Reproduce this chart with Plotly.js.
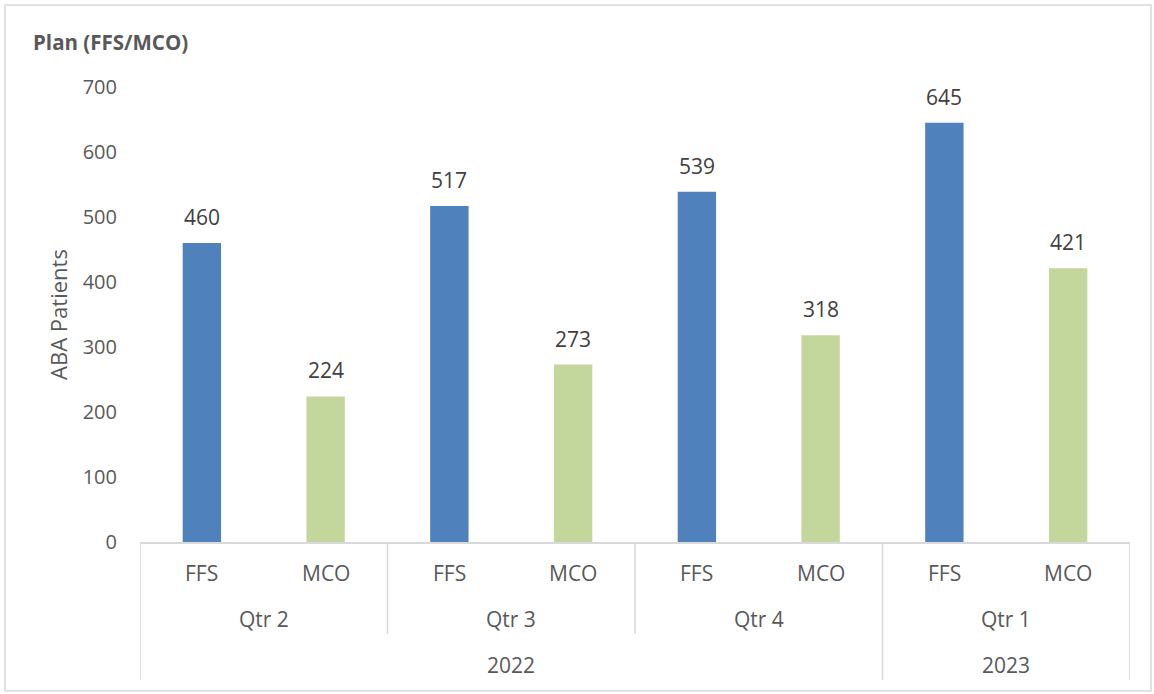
<!DOCTYPE html>
<html>
<head>
<meta charset="utf-8">
<script src="https://cdn.plot.ly/plotly-3.0.1.min.js"></script>
<style>
  html, body { margin: 0; padding: 0; background: #fff; }
  #chart { width: 1154px; height: 694px; }
</style>
</head>
<body>
<div id="chart"></div>
<script>
// ---- data ----
const quarters = ['Qtr 2', 'Qtr 3', 'Qtr 4', 'Qtr 1'];
const years = ['2022', '2022', '2022', '2023'];
const plans = ['FFS', 'MCO'];
const ffsValues = [460, 517, 539, 645];
const mcoValues = [224, 273, 318, 421];
const yTicks = [0, 100, 200, 300, 400, 500, 600, 700];

// ---- styling ----
const FONT = '"Open Sans", "Noto Sans", sans-serif';
const TXT = '#595959';
const LINE = '#D9D9D9';
const BLUE = '#4F81BD';
const GREEN = '#C3D69B';

const ffsX = quarters.map((q, i) => 2 * i);
const mcoX = quarters.map((q, i) => 2 * i + 1);

const traces = [
  { type: 'bar', name: 'FFS', x: ffsX, y: ffsValues, width: 0.31,
    marker: { color: BLUE }, hoverinfo: 'y' },
  { type: 'bar', name: 'MCO', x: mcoX, y: mcoValues, width: 0.31,
    marker: { color: GREEN }, hoverinfo: 'y' }
];

const annotations = [];
const shapes = [];

// data labels
[[ffsX, ffsValues], [mcoX, mcoValues]].forEach(([xs, vs]) => {
  xs.forEach((x, i) => {
    annotations.push({ x: x, y: vs[i], xref: 'x', yref: 'y', text: String(vs[i]),
      showarrow: false, yanchor: 'middle', yshift: 26,
      font: { family: FONT, size: 21, color: '#404040' } });
  });
});

// level 1: plan labels
quarters.forEach((q, i) => {
  plans.forEach((p, j) => {
    annotations.push({ x: 2 * i + j, y: 0, xref: 'x', yref: 'paper', text: p,
      showarrow: false, yanchor: 'middle', yshift: -31,
      font: { family: FONT, size: 21, color: TXT } });
  });
  // level 2: quarter labels
  annotations.push({ x: 2 * i + 0.5, y: 0, xref: 'x', yref: 'paper', text: q,
    showarrow: false, yanchor: 'middle', yshift: -77,
    font: { family: FONT, size: 21, color: TXT } });
});

// level 3: year labels (group consecutive equal years)
const yearGroups = [];
years.forEach((y, i) => {
  const last = yearGroups[yearGroups.length - 1];
  if (last && last.year === y) last.end = i; else yearGroups.push({ year: y, start: i, end: i });
});
yearGroups.forEach(g => {
  annotations.push({ x: (2 * g.start - 0.5 + 2 * g.end + 1.5) / 2, y: 0, xref: 'x', yref: 'paper',
    text: g.year, showarrow: false, yanchor: 'middle', yshift: -123,
    font: { family: FONT, size: 21, color: TXT } });
});

// separators
const PH = 455;
const qBottom = -92 / PH, yBottom = -138 / PH;
const yearBoundaries = new Set();
yearGroups.forEach(g => { yearBoundaries.add(g.start); yearBoundaries.add(g.end + 1); });
for (let i = 0; i <= quarters.length; i++) {
  const x = 2 * i - 0.5;
  const bottom = yearBoundaries.has(i) ? yBottom : qBottom;
  shapes.push({ type: 'line', xref: 'x', yref: 'paper', x0: x, x1: x, y0: 0, y1: bottom,
    line: { color: LINE, width: 1.5 } });
}
// outer frame
shapes.push({ type: 'rect', xref: 'paper', yref: 'paper',
  x0: (5 - 140) / 990, x1: (1151 - 140) / 990, y0: (542 - 691) / PH, y1: (542 - 5) / PH,
  line: { color: LINE, width: 1.5 }, fillcolor: 'rgba(0,0,0,0)' });

const layout = {
  width: 1154, height: 694,
  margin: { l: 140, r: 24, t: 87, b: 152 },
  paper_bgcolor: '#ffffff', plot_bgcolor: '#ffffff',
  showlegend: false,
  barmode: 'overlay',
  font: { family: FONT, color: TXT },
  title: { text: '<b>Plan (FFS/MCO)</b>', x: 33 / 1154, xanchor: 'left', y: 1 - 43 / 694, yanchor: 'middle',
    font: { family: FONT, size: 20.5, color: TXT } },
  xaxis: { range: [-0.5, 2 * quarters.length - 0.5], showticklabels: false, ticks: '',
    showgrid: false, zeroline: false, showline: true, linecolor: LINE, linewidth: 1.5,
    fixedrange: true },
  yaxis: { range: [0, 700], tickvals: yTicks, ticktext: yTicks.map(String),
    ticks: 'outside', ticklen: 18, tickcolor: 'rgba(0,0,0,0)',
    tickfont: { family: FONT, size: 20, color: TXT },
    showgrid: false, zeroline: false, showline: false,
    title: { text: 'ABA Patients', standoff: 8, font: { family: FONT, size: 22, color: TXT } },
    fixedrange: true },
  annotations: annotations,
  shapes: shapes
};

Plotly.newPlot('chart', traces, layout, { displayModeBar: false, staticPlot: true });
</script>
</body>
</html>
